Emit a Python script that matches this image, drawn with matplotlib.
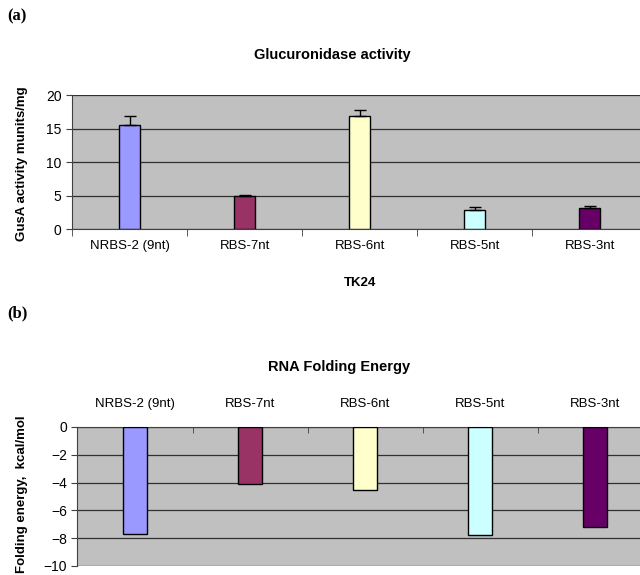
import matplotlib
matplotlib.use('Agg')
import matplotlib.pyplot as plt
import numpy as np

plt.rcParams['font.family'] = ['Liberation Sans', 'DejaVu Sans']

categories = ['NRBS-2 (9nt)', 'RBS-7nt', 'RBS-6nt', 'RBS-5nt', 'RBS-3nt']
bar_colors = ['#9999FF', '#993366', '#FFFFCC', '#CCFFFF', '#660066']

gus_activity = [15.6, 4.9, 16.8, 2.8, 3.1]
gus_err = [1.2, 0.25, 1.0, 0.45, 0.35]

folding_energy = [-7.7, -4.1, -4.55, -7.8, -7.2]

bg = '#C0C0C0'

fig = plt.figure(figsize=(6.4, 5.75), dpi=100)

x = np.arange(len(categories))

# ---- panel (a) ----
ax1 = fig.add_axes([0.1125, 0.6017, 0.899, 0.2330])
ax1.set_facecolor(bg)
ax1.bar(x, gus_activity, width=0.18, color=bar_colors, edgecolor='black', linewidth=1,
        yerr=[[0] * len(gus_err), gus_err], capsize=4,
        error_kw=dict(ecolor='black', elinewidth=1, capthick=1), zorder=3)
ax1.set_xlim(-0.5, len(categories) - 0.5)
ax1.set_ylim(0, 20)
ax1.set_yticks([0, 5, 10, 15, 20])
ax1.yaxis.grid(True, color='#303030', linewidth=0.9)
ax1.set_axisbelow(True)
ax1.set_xticks(x)
ax1.set_xticklabels(categories, fontsize=9.5)
ax1.set_xticks(np.arange(len(categories) + 1) - 0.5, minor=True)
ax1.tick_params(axis='x', which='major', length=0, pad=8)
ax1.tick_params(axis='x', which='minor', length=5, direction='out', color='#404040')
ax1.tick_params(axis='y', length=4, direction='out', labelsize=10, color='#404040')
for s in ['top', 'right']:
    ax1.spines[s].set_visible(False)
for s in ['left', 'bottom']:
    ax1.spines[s].set_color('#404040')
ax1.set_xlabel('TK24', fontsize=9.5, fontweight='bold', labelpad=18)
fig.text(0.52, 0.904, 'Glucuronidase activity', fontsize=10.5, fontweight='bold',
         ha='center', va='center')

fig.text(0.034, 0.715, 'GusA activity munits/mg', rotation=90, fontsize=9.5,
         fontweight='bold', ha='center', va='center')

fig.text(0.012, 0.972, '(a)', fontsize=12, fontweight='bold', fontfamily='Liberation Serif',
         va='center')

# ---- panel (b) ----
ax2 = fig.add_axes([0.121, 0.016, 0.899, 0.2414])
ax2.set_facecolor(bg)
ax2.bar(x, folding_energy, width=0.21, color=bar_colors, edgecolor='black', linewidth=1,
        zorder=3)
ax2.set_xlim(-0.5, len(categories) - 0.5)
ax2.set_ylim(-10, 0)
ax2.set_yticks([0, -2, -4, -6, -8, -10])
ax2.yaxis.grid(True, color='#303030', linewidth=0.9)
ax2.set_axisbelow(True)
ax2.xaxis.tick_top()
ax2.set_xticks(x)
ax2.set_xticklabels(categories, fontsize=9.5)
ax2.set_xticks(np.arange(len(categories) + 1) - 0.5, minor=True)
ax2.tick_params(axis='x', which='major', length=0, pad=12)
ax2.tick_params(axis='x', which='minor', length=4, direction='in', color='#404040',
                top=True, bottom=False)
ax2.tick_params(axis='y', length=4, direction='out', labelsize=10, color='#404040')
for s in ['bottom', 'right']:
    ax2.spines[s].set_visible(False)
for s in ['left', 'top']:
    ax2.spines[s].set_color('#404040')
fig.text(0.53, 0.362, 'RNA Folding Energy', fontsize=10.5, fontweight='bold',
         ha='center', va='center')

fig.text(0.034, 0.14, 'Folding energy,  kcal/mol', rotation=90, fontsize=9.5,
         fontweight='bold', ha='center', va='center')

fig.text(0.012, 0.455, '(b)', fontsize=12, fontweight='bold', fontfamily='Liberation Serif',
         va='center')

fig.savefig('out.png', dpi=100)
